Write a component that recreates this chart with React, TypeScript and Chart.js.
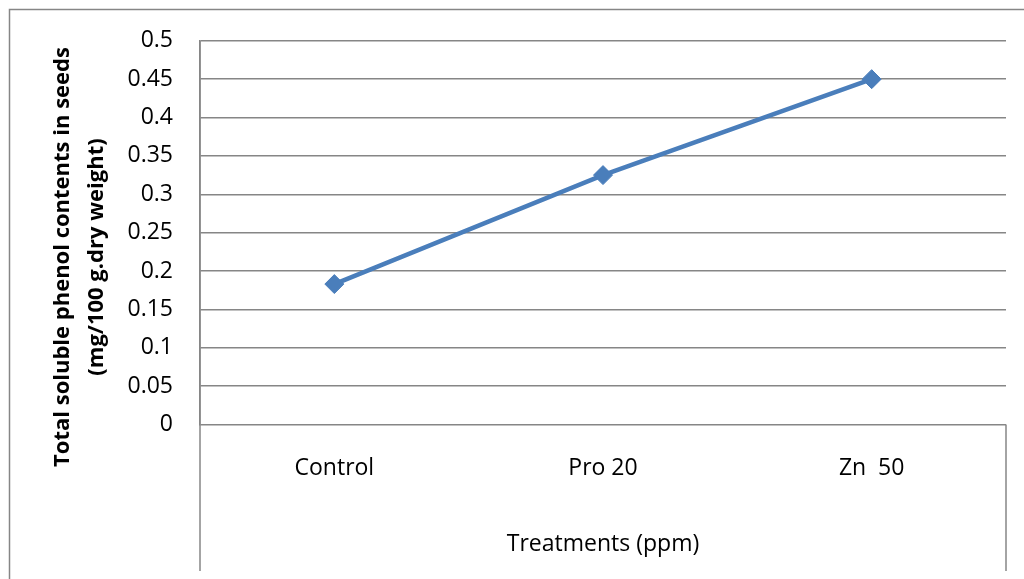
import { useEffect, useRef } from 'react';
import { Chart, registerables } from 'chart.js';

Chart.register(...registerables);

// Treatments on the category axis
const categories = ['Control', 'Pro 20', 'Zn  50'];
// Total soluble phenol contents (mg/100 g dry weight)
const phenolValues = [0.183, 0.325, 0.45];
// Value axis labels, bottom to top
const yTickLabels = ['0', '0.05', '0.1', '0.15', '0.2', '0.25', '0.3', '0.35', '0.4', '0.45', '0.5'];
const yTitleLines = ['Total soluble phenol contents in seeds', '(mg/100 g.dry weight)'];
const xTitle = 'Treatments (ppm)';

const FONT = '"Open Sans", "Noto Sans", sans-serif';
const LINE_GREY = '#868686';
const SERIES_BLUE = '#4a7ebb';

// Draws the outer frame, the box around the category axis and the rotated value-axis title
const framePlugin = {
  id: 'frame',
  beforeDraw(chart: any) {
    const { ctx, chartArea, width, height } = chart;
    ctx.save();
    ctx.strokeStyle = LINE_GREY;
    ctx.lineWidth = 1.5;
    ctx.beginPath();
    ctx.moveTo(9.5, height);
    ctx.lineTo(9.5, 9.5);
    ctx.lineTo(width, 9.5);
    ctx.stroke();

    const boxBottom = height - 8;
    ctx.beginPath();
    ctx.moveTo(chartArea.left, chartArea.top);
    ctx.lineTo(chartArea.left, boxBottom);
    ctx.moveTo(chartArea.right, chartArea.bottom);
    ctx.lineTo(chartArea.right, boxBottom);
    ctx.stroke();
    ctx.restore();
  },
  afterDraw(chart: any) {
    const { ctx } = chart;
    ctx.save();
    ctx.fillStyle = '#000';
    ctx.font = `bold 22px ${FONT}`;
    ctx.textAlign = 'center';
    ctx.textBaseline = 'middle';
    ctx.translate(63, 257);
    ctx.rotate(-Math.PI / 2);
    yTitleLines.forEach((line, i) => ctx.fillText(line, 0, i * 34));
    ctx.restore();
  },
};

export default function App() {
  const canvasRef = useRef<HTMLCanvasElement | null>(null);

  useEffect(() => {
    const canvas = canvasRef.current;
    if (!canvas) return;
    const chart = new Chart(canvas, {
      type: 'line',
      data: {
        labels: categories,
        datasets: [
          {
            data: phenolValues,
            borderColor: SERIES_BLUE,
            backgroundColor: SERIES_BLUE,
            borderWidth: 4.5,
            pointStyle: 'rectRot',
            pointRadius: 9.5,
            pointBorderWidth: 1,
            pointBackgroundColor: SERIES_BLUE,
            pointBorderColor: SERIES_BLUE,
            tension: 0,
            fill: false,
          },
        ],
      },
      options: {
        responsive: false,
        animation: false,
        layout: { padding: { left: 0, top: 38.5, right: 18, bottom: 0 } },
        plugins: {
          legend: { display: false },
          tooltip: { enabled: false },
        },
        scales: {
          x: {
            type: 'category',
            offset: true,
            grid: { display: false, drawTicks: false },
            border: { display: false },
            ticks: {
              color: '#000',
              font: { family: FONT, size: 23 },
              padding: 30,
              maxRotation: 0,
            },
            title: {
              display: true,
              text: xTitle,
              color: '#000',
              font: { family: FONT, size: 23 },
              padding: { top: 0, bottom: 21 },
            },
            afterFit(scale: any) {
              scale.height = 154.5;
            },
          },
          y: {
            min: 0,
            max: 0.5,
            grid: { color: LINE_GREY, lineWidth: 1.5, drawTicks: false },
            border: { display: true, color: LINE_GREY, width: 1.5 },
            ticks: {
              stepSize: 0.05,
              color: '#000',
              font: { family: FONT, size: 23 },
              padding: 27,
              callback: (_v: any, index: number) => yTickLabels[index],
            },
            afterFit(scale: any) {
              scale.width = 200;
            },
          },
        },
      },
      plugins: [framePlugin],
    });
    return () => chart.destroy();
  }, []);

  return (
    <div style={{ position: 'fixed', left: 0, top: 0, width: 1024, height: 579, background: '#fff' }}>
      <canvas ref={canvasRef} width={1024} height={579} style={{ display: 'block' }} />
    </div>
  );
}
